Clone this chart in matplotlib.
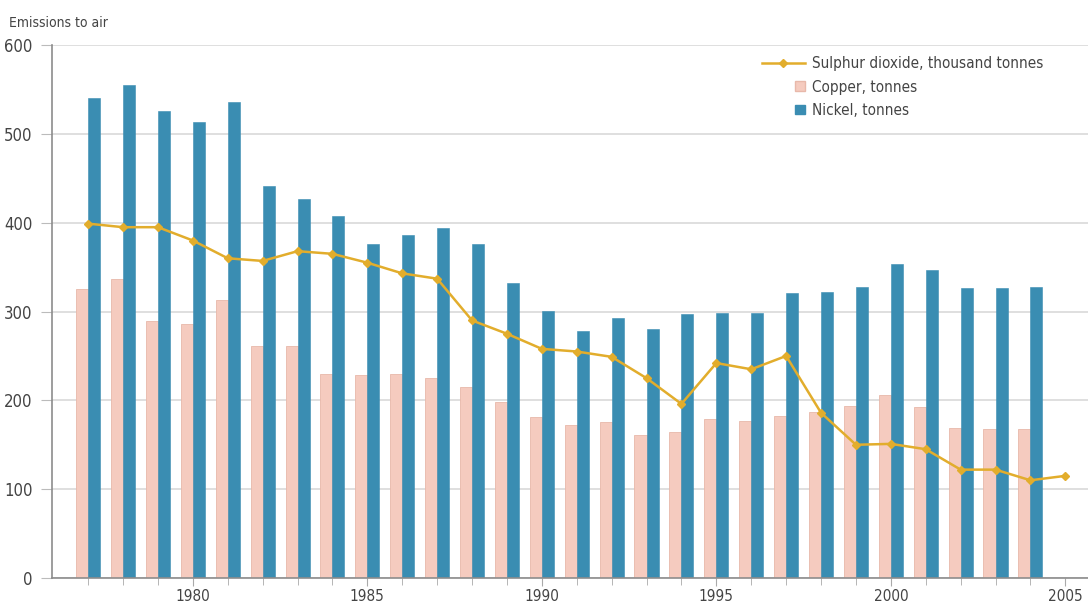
import matplotlib.pyplot as plt
import numpy as np
from matplotlib.lines import Line2D
from matplotlib.patches import Patch, Rectangle
from matplotlib.legend_handler import HandlerPatch

plt.rcParams['font.family'] = ['DejaVu Sans']
plt.rcParams['font.stretch'] = 'condensed'

years = list(range(1977, 2005))
copper = [325, 337, 289, 286, 313, 261, 261, 230, 228, 230, 225, 215, 198, 181,
          172, 176, 161, 164, 179, 177, 182, 187, 194, 206, 192, 169, 168, 168]
nickel = [540, 555, 526, 514, 536, 441, 427, 408, 376, 386, 394, 376, 332, 301,
          278, 293, 280, 297, 298, 298, 321, 322, 328, 353, 347, 327, 327, 328]
so2_years = list(range(1977, 2006))
so2 = [399, 395, 395, 380, 360, 357, 368, 365, 355, 343, 337, 290, 275, 258,
       255, 249, 225, 196, 242, 235, 250, 186, 150, 151, 145, 122, 122, 110, 115]

blue = "#3a8db2"
pink = "#f5cbbf"
gold = "#e2ad2c"
txt = "#444444"

fig = plt.figure(figsize=(10.88, 6.10), dpi=100)
ax = fig.add_axes([0.048, 0.0525, 0.952, 0.8735])

w = 0.345
x = np.array(years)
ax.bar(x - w / 2, copper, width=w, color=pink, edgecolor="#e8b8aa", linewidth=0.6, zorder=2)
ax.bar(x + w / 2, nickel, width=w, color=blue, edgecolor=blue, linewidth=0.4, zorder=2)
ax.plot(so2_years, so2, color=gold, linewidth=1.8, marker="D", markersize=4.5, zorder=3)

ax.set_xlim(1975.97, 2005.65)
ax.set_ylim(0, 600)
ax.set_yticks(range(0, 601, 100))
ax.set_xticks(so2_years[:-1], minor=True)
ax.set_xticks([1980, 1985, 1990, 1995, 2000, 2005])
ax.yaxis.grid(True, color="#d9d9d9", linewidth=1.2, zorder=0)
ax.set_axisbelow(True)

for s in ["top", "right"]:
    ax.spines[s].set_visible(False)
for s in ["left", "bottom"]:
    ax.spines[s].set_color("#8c8c8c")
    ax.spines[s].set_linewidth(1.2)

ax.tick_params(axis="y", length=8, color="#bbbbbb", labelsize=12, labelcolor=txt, pad=6)
ax.tick_params(axis="x", which="major", length=6, color="#aaaaaa", labelsize=11, labelcolor=txt, pad=2)
ax.tick_params(axis="x", which="minor", length=5, color="#aaaaaa")

fig.text(0.008, 0.962, "Emissions to air", fontsize=10, color=txt, ha="left", va="center")


# small square legend keys sitting right next to the text, like the original
def small_square(legend, orig_handle, xdescent, ydescent, width, height, fontsize):
    s = height * 0.9
    return Rectangle((width - s - xdescent, -ydescent + (height - s) / 2), s, s)


handles = [
    Line2D([0], [0], color=gold, linewidth=1.8, marker="D", markersize=4.5),
    Patch(facecolor=pink, edgecolor="#e8b8aa"),
    Patch(facecolor=blue, edgecolor=blue),
]
labels = ["Sulphur dioxide, thousand tonnes", "Copper, tonnes", "Nickel, tonnes"]
leg = ax.legend(handles, labels, loc="upper left", bbox_to_anchor=(0.672, 1.005), frameon=True,
                fontsize=11, labelcolor=txt, handlelength=2.8, handletextpad=0.5,
                labelspacing=0.55, borderpad=0.4,
                handler_map={Patch: HandlerPatch(patch_func=small_square)})
leg.get_frame().set_facecolor("white")
leg.get_frame().set_edgecolor("white")

fig.savefig("out.png", dpi=100)
